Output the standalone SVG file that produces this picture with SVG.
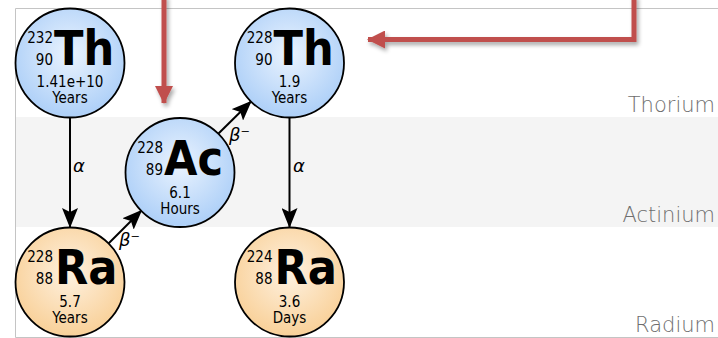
<svg xmlns="http://www.w3.org/2000/svg" width="718" height="338" viewBox="0 0 718 338">
  <defs>
    <radialGradient id="gBlue" cx="0.5" cy="0.42" r="0.55">
      <stop offset="0" stop-color="#eaf3fe"/>
      <stop offset="1" stop-color="#b0d1f8"/>
    </radialGradient>
    <radialGradient id="gOrange" cx="0.5" cy="0.42" r="0.55">
      <stop offset="0" stop-color="#fef1e0"/>
      <stop offset="1" stop-color="#f9d29c"/>
    </radialGradient>
    <marker id="headBlack" markerUnits="userSpaceOnUse" markerWidth="20" markerHeight="16" viewBox="0 0 20 16" refX="19" refY="8" orient="auto">
      <path d="M0,0 L20,8 L0,16 L4,8 Z" fill="#000"/>
    </marker>
    <marker id="headRed" markerUnits="userSpaceOnUse" markerWidth="18" markerHeight="18" viewBox="0 0 18 18" refX="17" refY="9" orient="auto">
      <path d="M0,0 L18,9 L0,18 Z" fill="#c0504d"/>
    </marker>
    <filter id="shadow" x="-20%" y="-20%" width="140%" height="140%">
      <feGaussianBlur in="SourceAlpha" stdDeviation="2"/>
      <feOffset dx="2" dy="3" result="b"/>
      <feComponentTransfer><feFuncA type="linear" slope="0.35"/></feComponentTransfer>
      <feMerge><feMergeNode/><feMergeNode in="SourceGraphic"/></feMerge>
    </filter>
  </defs>
  <style>
    .ring { stroke: #000; stroke-width: 1.8; }
    .iso { font-family: "DejaVu Sans Condensed", "DejaVu Sans", sans-serif; font-stretch: condensed; font-size: 15px; text-anchor: end; fill: #000; }
    .sym { font-family: "DejaVu Sans Condensed", "DejaVu Sans", sans-serif; font-stretch: condensed; font-weight: bold; font-size: 48px; fill: #000; }
    .life { font-family: "DejaVu Sans Condensed", "DejaVu Sans", sans-serif; font-stretch: condensed; font-size: 15px; text-anchor: middle; fill: #000; }
    .band { font-family: "DejaVu Sans", sans-serif; font-weight: 200; font-size: 21px; text-anchor: end; fill: #6e6e6e; }
    .decay { font-family: "DejaVu Sans", sans-serif; font-style: italic; font-size: 18px; fill: #000; }
    .edge { stroke: #000; stroke-width: 2; fill: none; marker-end: url(#headBlack); }
    .red { stroke: #c0504d; stroke-width: 5; fill: none; marker-end: url(#headRed); }
  </style>

  <!-- element bands -->
  <g id="bands">
    <rect x="15" y="8" width="703" height="330" fill="#fff"/>
    <rect x="16" y="117" width="702" height="110" fill="#f4f4f4"/>
    <path d="M718,8.5 H15.5 V337.5 H718" fill="none" stroke="#c4c4c4" stroke-width="1"/>
    <text class="band" x="715" y="112">Thorium</text>
    <text class="band" x="715" y="222">Actinium</text>
    <text class="band" x="715" y="332">Radium</text>
  </g>

  <!-- decay connectors -->
  <g id="connectors">
    <line class="edge" x1="70" y1="118" x2="70" y2="227"/>
    <line class="edge" x1="108.5" y1="243.5" x2="141.5" y2="210.5"/>
    <line class="edge" x1="218.5" y1="133.5" x2="251" y2="101.5"/>
    <line class="edge" x1="289.5" y1="118" x2="289.5" y2="227"/>
    <text class="decay" x="73" y="172">α</text>
    <text class="decay" x="119" y="246">β⁻</text>
    <text class="decay" x="229" y="141">β⁻</text>
    <text class="decay" x="293" y="172">α</text>
  </g>

  <g id="th232" transform="translate(70,63)">
    <circle class="ring" r="54.5" fill="url(#gBlue)"/>
    <text class="iso" x="-17" y="-20">232</text>
    <text class="iso" x="-17" y="2">90</text>
    <text class="sym" x="-16" y="2">Th</text>
    <text class="life" x="0" y="24">1.41e+10</text>
    <text class="life" x="0" y="40">Years</text>
  </g>

  <g id="th228" transform="translate(289.5,63)">
    <circle class="ring" r="54.5" fill="url(#gBlue)"/>
    <text class="iso" x="-17" y="-20">228</text>
    <text class="iso" x="-17" y="2">90</text>
    <text class="sym" x="-16" y="2">Th</text>
    <text class="life" x="0" y="24">1.9</text>
    <text class="life" x="0" y="40">Years</text>
  </g>

  <g id="ac228" transform="translate(180,172.5)">
    <circle class="ring" r="54.5" fill="url(#gBlue)"/>
    <text class="iso" x="-17" y="-20">228</text>
    <text class="iso" x="-17" y="2">89</text>
    <text class="sym" x="-16" y="2">Ac</text>
    <text class="life" x="0" y="25">6.1</text>
    <text class="life" x="0" y="41">Hours</text>
  </g>

  <g id="ra228" transform="translate(70,282)">
    <circle class="ring" r="54.5" fill="url(#gOrange)"/>
    <text class="iso" x="-17" y="-20">228</text>
    <text class="iso" x="-17" y="2">88</text>
    <text class="sym" x="-15" y="2">Ra</text>
    <text class="life" x="0" y="25">5.7</text>
    <text class="life" x="0" y="41">Years</text>
  </g>

  <g id="ra224" transform="translate(289.5,282)">
    <circle class="ring" r="54.5" fill="url(#gOrange)"/>
    <text class="iso" x="-17" y="-20">224</text>
    <text class="iso" x="-17" y="2">88</text>
    <text class="sym" x="-15" y="2">Ra</text>
    <text class="life" x="0" y="25">3.6</text>
    <text class="life" x="0" y="41">Days</text>
  </g>

  <!-- highlight pointers -->
  <g id="pointers" filter="url(#shadow)">
    <path class="red" d="M164,-5 V103"/>
    <path class="red" d="M634,-5 V39.5 H368"/>
  </g>
</svg>
